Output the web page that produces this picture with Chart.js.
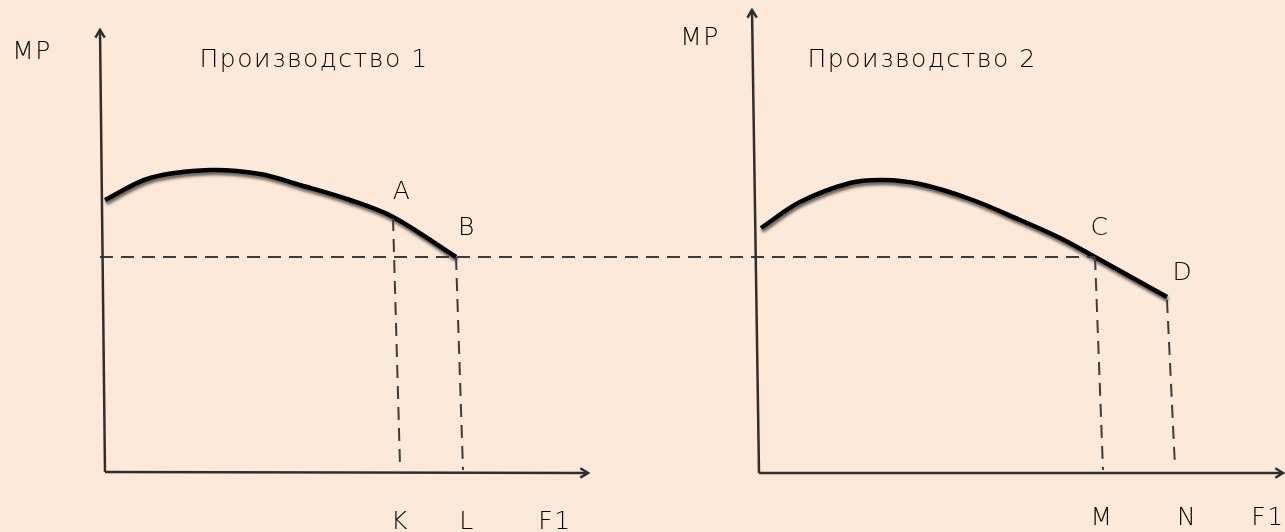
<!DOCTYPE html>
<html>
<head>
<meta charset="utf-8">
<script src="https://cdn.jsdelivr.net/npm/chart.js@4"></script>
<style>
  html, body { margin: 0; padding: 0; background: #fde9d9; }
  #wrap { width: 1285px; height: 532px; }
</style>
</head>
<body>
<div id="wrap"><canvas id="mpChart" width="1285" height="532"></canvas></div>
<script>
// units: F1 along x, MP along y (1 unit = 10px)
const curve1X = [0, 4.5, 10.5, 15.5, 19.5, 24.5, 28.8, 35.1];
const curve1Y = [27.2, 29.4, 30.2, 29.8, 28.7, 27.2, 25.5, 21.5];

const curve2X = [65.6, 69.5, 74.5, 77.8, 81.5, 86.5, 91.5, 95.5, 99.0, 106.2];
const curve2Y = [24.4, 27.0, 28.9, 29.2, 28.8, 27.3, 25.2, 23.4, 21.5, 17.5];

const levelX = [-0.5, 99.0];
const levelY = [21.5, 21.5];

const dropK = { x: [28.8, 29.5], y: [25.4, 0.7] };
const dropL = { x: [35.1, 35.8], y: [21.5, 0.2] };
const dropM = { x: [99.0, 99.8], y: [21.5, 0.2] };
const dropN = { x: [106.2, 107.0], y: [17.2, 0.5] };

const axis1V = { x: [0, -0.5], y: [0, 44.2] };
const axis1H = { x: [0, 48.3], y: [0, -0.1] };
const axis2V = { x: [65.4, 64.7], y: [-0.1, 46.2] };
const axis2H = { x: [65.4, 117.8], y: [-0.1, -0.1] };

const labelText = ["A", "B", "C", "D", "K", "L", "F1", "M", "N", "F1", "MP", "MP", "Производство 1", "Производство 2"];
const labelX = [29.7, 36.2, 99.5, 107.8, 29.5, 36.2, 45.0, 99.7, 108.2, 116.3, -7.3, 59.5, 20.9, 81.7];
const labelY = [28.0, 24.4, 24.4, 19.9, -5.0, -5.0, -5.0, -4.6, -4.6, -4.6, 42.0, 43.4, 41.2, 41.2];

function pts(xs, ys) {
  return xs.map((x, i) => ({ x: x, y: ys[i] }));
}

function axisSet(a) {
  return { data: pts(a.x, a.y), borderColor: "#2e2e2e", borderWidth: 2.5, tension: 0, arrow: true };
}

function dashSet(a) {
  return { data: pts(a.x, a.y), borderColor: "#3c3c3c", borderWidth: 2, borderDash: [13, 8], tension: 0 };
}

const arrowPlugin = {
  id: "arrows",
  afterDatasetsDraw(chart) {
    const ctx = chart.ctx;
    chart.data.datasets.forEach((ds, i) => {
      if (!ds.arrow) return;
      const els = chart.getDatasetMeta(i).data;
      const p1 = els[els.length - 2], p2 = els[els.length - 1];
      const ang = Math.atan2(p2.y - p1.y, p2.x - p1.x);
      const len = 9, spread = 0.55;
      ctx.save();
      ctx.strokeStyle = ds.borderColor;
      ctx.lineWidth = 2.5;
      ctx.beginPath();
      ctx.moveTo(p2.x - len * Math.cos(ang - spread), p2.y - len * Math.sin(ang - spread));
      ctx.lineTo(p2.x, p2.y);
      ctx.lineTo(p2.x - len * Math.cos(ang + spread), p2.y - len * Math.sin(ang + spread));
      ctx.stroke();
      ctx.restore();
    });
  }
};

const shadowPlugin = {
  id: "curveShadow",
  beforeDatasetDraw(chart, args) {
    if (!args.meta._dataset.shadow) return;
    const ctx = chart.ctx;
    ctx.save();
    ctx.shadowColor = "rgba(0,0,0,0.6)";
    ctx.shadowOffsetY = 3;
    ctx.shadowOffsetX = 1;
    ctx.shadowBlur = 3;
  },
  afterDatasetDraw(chart, args) {
    if (!args.meta._dataset.shadow) return;
    chart.ctx.restore();
  }
};

const labelPlugin = {
  id: "labels",
  afterDraw(chart) {
    const ctx = chart.ctx;
    const xs = chart.scales.x, ys = chart.scales.y;
    ctx.save();
    ctx.fillStyle = "#000";
    ctx.font = "200 25px 'DejaVu Sans'";
    ctx.letterSpacing = "1.5px";
    ctx.textAlign = "center";
    ctx.textBaseline = "middle";
    labelText.forEach((t, i) => {
      ctx.fillText(t, xs.getPixelForValue(labelX[i]), ys.getPixelForValue(labelY[i]));
    });
    ctx.restore();
  }
};

new Chart(document.getElementById("mpChart"), {
  type: "scatter",
  data: {
    datasets: [
      axisSet(axis1V), axisSet(axis1H), axisSet(axis2V), axisSet(axis2H),
      { data: pts(levelX, levelY), borderColor: "#3c3c3c", borderWidth: 2, borderDash: [13, 8], tension: 0 },
      dashSet(dropK), dashSet(dropL), dashSet(dropM), dashSet(dropN),
      { data: pts(curve1X, curve1Y), borderColor: "#000", borderWidth: 4.5, tension: 0.35, shadow: true },
      { data: pts(curve2X, curve2Y), borderColor: "#000", borderWidth: 4.5, tension: 0.35, shadow: true }
    ]
  },
  options: {
    responsive: false,
    animation: false,
    showLine: true,
    clip: false,
    layout: { padding: 0 },
    elements: { point: { radius: 0, hoverRadius: 0 }, line: { borderCapStyle: "butt" } },
    plugins: { legend: { display: false }, tooltip: { enabled: false } },
    scales: {
      x: { type: "linear", min: -10.5, max: 118.0, display: false },
      y: { type: "linear", min: -6.0, max: 47.2, display: false }
    }
  },
  plugins: [shadowPlugin, arrowPlugin, labelPlugin]
});
</script>
</body>
</html>
